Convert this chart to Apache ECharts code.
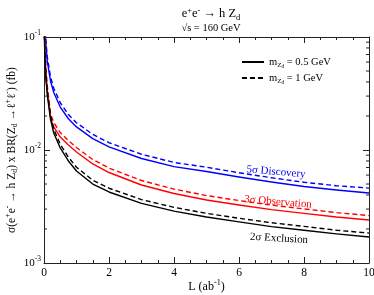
<!DOCTYPE html>
<html>
<head>
<meta charset="utf-8">
<script src="https://cdn.jsdelivr.net/npm/echarts@6/dist/echarts.min.js"></script>
<style>html,body{margin:0;padding:0;background:#fff}#c{width:374px;height:295px}</style>
</head>
<body>
<div id="c"></div>
<script>
// Luminosity L (ab^-1)
const lumi = [0.01, 0.02, 0.05, 0.1, 0.2, 0.3, 0.5, 0.75, 1, 1.5, 2, 3, 4, 5, 6, 7, 8, 9, 10];
// cross section x BR (fb)
const disc05 = [0.235, 0.157, 0.092, 0.0613, 0.0408, 0.0323, 0.0240, 0.0189, 0.0160, 0.0126, 0.01064, 0.00841, 0.00712, 0.00646, 0.00577, 0.00521, 0.00475, 0.00443, 0.00416];
const disc1  = [0.256, 0.171, 0.1003, 0.0668, 0.0445, 0.0352, 0.0262, 0.0206, 0.01744, 0.01373, 0.0116, 0.00917, 0.00776, 0.00704, 0.00629, 0.00568, 0.00518, 0.00483, 0.00460];
const obs05  = [0.1276, 0.0941, 0.0532, 0.0340, 0.0192, 0.0160, 0.01303, 0.01107, 0.00960, 0.00752, 0.00632, 0.00490, 0.00412, 0.00361, 0.00326, 0.00297, 0.00275, 0.00255, 0.00240];
const obs1   = [0.1397, 0.1030, 0.0583, 0.0372, 0.0210, 0.0175, 0.01427, 0.01212, 0.01051, 0.00823, 0.00692, 0.00537, 0.00451, 0.00395, 0.00357, 0.00325, 0.00301, 0.00279, 0.00263];
const exc05  = [0.1107, 0.0800, 0.0461, 0.0307, 0.0188, 0.01414, 0.01042, 0.00800, 0.00652, 0.00500, 0.00425, 0.00337, 0.00288, 0.00255, 0.00231, 0.00210, 0.00195, 0.00181, 0.00170];
const exc1   = [0.1196, 0.0864, 0.0498, 0.0332, 0.0203, 0.01527, 0.01125, 0.00864, 0.00704, 0.00540, 0.00459, 0.00364, 0.00311, 0.00275, 0.00249, 0.00227, 0.00211, 0.00195, 0.00184];
// minor log ticks
const minorY = [0.002,0.003,0.004,0.005,0.006,0.007,0.008,0.009,0.02,0.03,0.04,0.05,0.06,0.07,0.08,0.09];

const F = 'Liberation Serif';
function R(size, lh){
  return {
    n: {fontFamily: F, fontSize: size, fontWeight:'normal', color: '#000', lineHeight: lh},
    sup: {fontFamily: F, fontSize: size*0.68, fontWeight:'normal', color: '#000', verticalAlign: 'top', lineHeight: lh, padding: [0,0,Math.round(size*0.5),0]},
    sub: {fontFamily: F, fontSize: size*0.68, fontWeight:'normal', color: '#000', verticalAlign: 'bottom', lineHeight: lh, padding: [Math.round(size*0.45),0,0,0]},
    ss: {fontFamily: F, fontSize: size*0.5, fontWeight:'normal', color: '#000', verticalAlign: 'bottom', lineHeight: lh, padding: [Math.round(size*0.85),0,0,0]}
  };
}
function pair(xs, ys){ return xs.map((x,i)=>[x, ys[i]]); }
function line(name, data, color, dashed){
  return {type:'line', name:name, data:pair(lumi,data), showSymbol:false, symbol:'none', smooth:false,
    lineStyle:{color:color, width:1.4, type: dashed ? [5,3] : 'solid', join:'round'}, itemStyle:{color:color}, clip:true, z:3, silent:true};
}
const chart = echarts.init(document.getElementById('c'), null, {renderer:'canvas'});
const axisLine = {show:true, onZero:false, lineStyle:{color:'#222', width:1}};
const option = {
  animation:false,
  backgroundColor:'#fff',
  title:[{
    text:'{n|e}{sup|+}{n|e}{sup|-}{n| → h Z}{sub|d}', left:206, top:1, textAlign:'center',
    textStyle:{fontWeight:'normal', rich:R(12.5,16)}
  },{
    text:'√s = 160 GeV', left:206, top:18, textAlign:'center',
    textStyle:{fontFamily:F, fontSize:10.5, fontWeight:'normal', color:'#000'}
  }],
  grid:{left:44, right:5, top:37, bottom:32, containLabel:false, outerBoundsMode:'none'},
  legend:{
    data:['m05','m1'], orient:'vertical', left:236, top:50, itemGap:2, itemWidth:22, itemHeight:10,
    itemStyle:{opacity:0},
    formatter: n => n==='m05' ? '{n|m}{sub|Z}{ss|d}{n| = 0.5 GeV}' : '{n|m}{sub|Z}{ss|d}{n| = 1 GeV}',
    textStyle:{rich:R(10.5,14)}
  },
  xAxis:[{
    type:'value', min:0, max:10, interval:2, position:'bottom',
    axisLine:axisLine, axisTick:{show:true, inside:true, length:6, lineStyle:{color:'#222'}},
    minorTick:{show:true, splitNumber:4, length:3, lineStyle:{color:'#222'}},
    splitLine:{show:false}, minorSplitLine:{show:false},
    axisLabel:{fontFamily:F, fontSize:11.5, color:'#000', margin:4},
    name:'{n|L (ab}{sup|-1}{n|)}', nameLocation:'middle', nameGap:16, nameMoveOverlap:false,
    nameTextStyle:{rich:R(12,16)}
  },{
    type:'value', min:0, max:10, interval:2, position:'top',
    axisLine:axisLine, axisTick:{show:true, inside:true, length:6, lineStyle:{color:'#222'}},
    minorTick:{show:true, splitNumber:4, length:3, lineStyle:{color:'#222'}},
    splitLine:{show:false}, axisLabel:{show:false}
  }],
  yAxis:[{
    type:'log', logBase:10, min:0.001, max:0.1, position:'left',
    axisLine:axisLine, axisTick:{show:true, inside:true, length:6, lineStyle:{color:'#222'}},
    splitLine:{show:false},
    axisLabel:{margin:3, formatter: v => '{n|10}{sup|' + Math.round(Math.log10(v)) + '}', rich:R(11,14)},
    name:'{n|σ(e}{sup|+}{n|e}{sup|-}{n| → h Z}{sub|d}{n|) x BR(Z}{sub|d}{n| →ℓ}{sup|+}{n|ℓ}{sup|-}{n|) (fb)}',
    nameLocation:'middle', nameGap:25, nameRotate:90, nameMoveOverlap:false,
    nameTextStyle:{rich:R(11.5,15)}
  },{
    type:'log', logBase:10, min:0.001, max:0.1, position:'right',
    axisLine:axisLine, axisTick:{show:true, inside:true, length:6, lineStyle:{color:'#222'}},
    splitLine:{show:false}, axisLabel:{show:false}
  }],
  series:[
    line('d05', disc05, '#0000ff', false),
    line('d1', disc1, '#0000ff', true),
    line('o05', obs05, '#ff0000', false),
    line('o1', obs1, '#ff0000', true),
    line('e05', exc05, '#000000', false),
    line('e1', exc1, '#000000', true),
    {type:'line', name:'m05', data:[], symbol:'none', lineStyle:{color:'#000', width:1.4, type:'solid'}, itemStyle:{color:'#000'}},
    {type:'line', name:'m1', data:[], symbol:'none', lineStyle:{color:'#000', width:1.4, type:[5,3]}, itemStyle:{color:'#000'}},
    {type:'custom', name:'minorTicks', data:minorY.map(v=>[0,v]), clip:false, silent:true, z:5,
      renderItem:(params, api)=>{
        const v = api.value(1);
        const pl = api.coord([0, v]); const pr = api.coord([10, v]);
        return {type:'group', children:[
          {type:'line', shape:{x1:pl[0], y1:pl[1], x2:pl[0]+3, y2:pl[1]}, style:{stroke:'#222', lineWidth:1}},
          {type:'line', shape:{x1:pr[0], y1:pr[1], x2:pr[0]-3, y2:pr[1]}, style:{stroke:'#222', lineWidth:1}}
        ]};
      }}
  ],
  graphic:[
    {type:'text', x:276, y:172, rotation:-0.085, style:{text:'5σ Discovery', fill:'#0000ff', font:'11px "Liberation Serif"', align:'center', verticalAlign:'middle'}},
    {type:'text', x:278, y:202, rotation:-0.085, style:{text:'3σ Observation', fill:'#ff0000', font:'11px "Liberation Serif"', align:'center', verticalAlign:'middle'}},
    {type:'text', x:279, y:238.5, rotation:-0.06, style:{text:'2σ Exclusion', fill:'#000', font:'11px "Liberation Serif"', align:'center', verticalAlign:'middle'}}
  ]
};
chart.setOption(option);
</script>
</body>
</html>
